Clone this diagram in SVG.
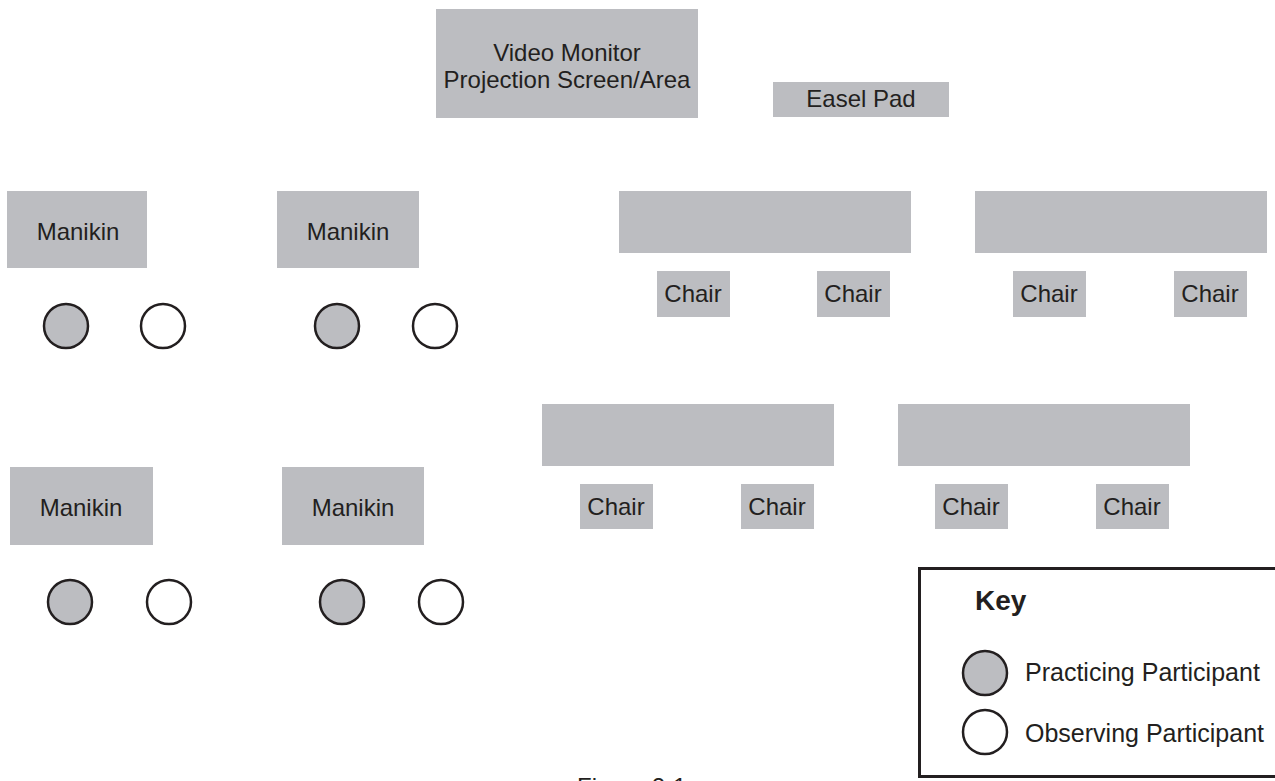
<svg xmlns="http://www.w3.org/2000/svg" width="1275" height="781" viewBox="0 0 1275 781">
<style>
.box{fill:#bcbdc1}
.t{font-family:"Liberation Sans",Arial,sans-serif;font-size:24px;fill:#231f20;text-anchor:middle}
.tl{font-family:"Liberation Sans",Arial,sans-serif;font-size:25px;fill:#231f20}
.p{fill:#bcbdc1;stroke:#231f20;stroke-width:2.5}
.o{fill:#fff;stroke:#231f20;stroke-width:2.5}
</style>
<rect width="1275" height="781" fill="#fff"/>
<g id="video"><rect class="box" x="436" y="9" width="262" height="109"/><text class="t" x="567" y="61">Video Monitor</text><text class="t" x="567" y="88">Projection Screen/Area</text></g>
<g id="easel"><rect class="box" x="773" y="82" width="176" height="35"/><text class="t" x="861" y="107">Easel Pad</text></g>
<g id="manikin1"><rect class="box" x="7" y="191" width="140" height="77"/><text class="t" x="78" y="240">Manikin</text></g>
<g id="manikin2"><rect class="box" x="277" y="191" width="142" height="77"/><text class="t" x="348" y="240">Manikin</text></g>
<g id="manikin3"><rect class="box" x="10" y="467" width="143" height="78"/><text class="t" x="81" y="516">Manikin</text></g>
<g id="manikin4"><rect class="box" x="282" y="467" width="142" height="78"/><text class="t" x="353" y="516">Manikin</text></g>
<g id="participants">
<circle class="p" cx="66" cy="326" r="22"/><circle class="o" cx="163" cy="326" r="22"/>
<circle class="p" cx="337" cy="326" r="22"/><circle class="o" cx="435" cy="326" r="22"/>
<circle class="p" cx="70" cy="602" r="22"/><circle class="o" cx="169" cy="602" r="22"/>
<circle class="p" cx="342" cy="602" r="22"/><circle class="o" cx="441" cy="602" r="22"/>
</g>
<g id="table1"><rect class="box" x="619" y="191" width="292" height="62"/></g>
<g id="table2"><rect class="box" x="975" y="191" width="292" height="62"/></g>
<g id="table3"><rect class="box" x="542" y="404" width="292" height="62"/></g>
<g id="table4"><rect class="box" x="898" y="404" width="292" height="62"/></g>
<g id="chairs">
<rect class="box" x="657" y="271" width="73" height="46"/><text class="t" x="693" y="302">Chair</text>
<rect class="box" x="817" y="271" width="73" height="46"/><text class="t" x="853" y="302">Chair</text>
<rect class="box" x="1013" y="271" width="73" height="46"/><text class="t" x="1049" y="302">Chair</text>
<rect class="box" x="1174" y="271" width="73" height="46"/><text class="t" x="1210" y="302">Chair</text>
<rect class="box" x="580" y="484" width="73" height="45"/><text class="t" x="616" y="515">Chair</text>
<rect class="box" x="741" y="484" width="73" height="45"/><text class="t" x="777" y="515">Chair</text>
<rect class="box" x="935" y="484" width="73" height="45"/><text class="t" x="971" y="515">Chair</text>
<rect class="box" x="1096" y="484" width="73" height="45"/><text class="t" x="1132" y="515">Chair</text>
</g>
<g id="key">
<rect x="919.5" y="568.5" width="370" height="208" fill="#fff" stroke="#231f20" stroke-width="3"/>
<text x="975" y="610" font-family="Liberation Sans,Arial,sans-serif" font-size="28" font-weight="bold" fill="#231f20">Key</text>
<circle class="p" cx="985" cy="673" r="22"/><text class="tl" x="1025" y="681">Practicing Participant</text>
<circle class="o" cx="985" cy="732" r="22"/><text class="tl" x="1025" y="742">Observing Participant</text>
</g>
<text x="577" y="795" font-family="Liberation Sans,Arial,sans-serif" font-size="24" fill="#231f20">Figure 2-1</text>
</svg>
